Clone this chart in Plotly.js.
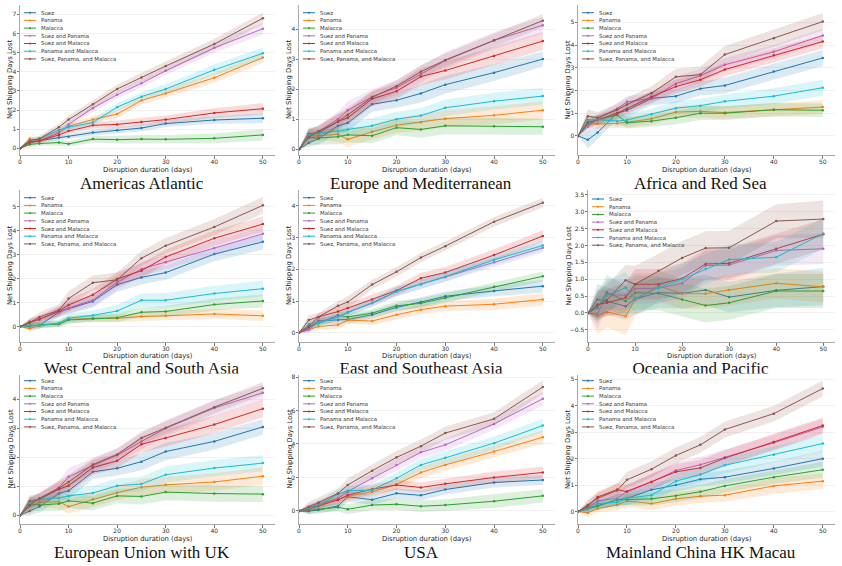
<!DOCTYPE html>
<html><head><meta charset="utf-8">
<script src="https://cdn.plot.ly/plotly-3.0.1.min.js"></script>
<style>html,body{margin:0;padding:0;background:#fff}#chart{width:842px;height:566px}</style>
</head><body><div id="chart"></div>
<script>
// ---------------- DATA ----------------
const days = [0, 2, 4, 8, 10, 15, 20, 25, 30, 40, 50];
const routes = ["Suez", "Panama", "Malacca", "Suez and Panama", "Suez and Malacca", "Panama and Malacca", "Suez, Panama, and Malacca"];
const regionNames = ["Americas Atlantic", "Europe and Mediterranean", "Africa and Red Sea",
  "West Central and South Asia", "East and Southeast Asia", "Oceania and Pacific",
  "European Union with UK", "USA", "Mainland China HK Macau"];
const xTickVals = [0, 10, 20, 30, 40, 50];

// Americas Atlantic
const aaMean = [
  [0,0.30,0.40,0.56,0.61,0.82,0.94,1.06,1.29,1.48,1.57],
  [0,0.50,0.35,0.85,1.15,1.50,1.79,2.50,2.87,3.69,4.74],
  [0,0.20,0.25,0.30,0.23,0.48,0.45,0.48,0.47,0.52,0.70],
  [0,0.30,0.40,0.80,1.25,2.10,2.80,3.40,4.05,5.25,6.25],
  [0,0.30,0.40,0.70,0.90,1.20,1.25,1.38,1.50,1.85,2.07],
  [0,0.40,0.50,0.95,1.10,1.35,2.15,2.70,3.10,4.10,4.97],
  [0,0.40,0.50,1.10,1.50,2.30,3.10,3.70,4.30,5.45,6.80]];
const aaErr = [
  [0,0.10,0.10,0.12,0.12,0.15,0.15,0.17,0.18,0.20,0.25],
  [0,0.15,0.12,0.15,0.15,0.18,0.20,0.22,0.22,0.25,0.28],
  [0,0.15,0.12,0.15,0.15,0.18,0.20,0.22,0.22,0.25,0.30],
  [0,0.12,0.12,0.15,0.15,0.20,0.20,0.22,0.22,0.25,0.30],
  [0,0.12,0.12,0.15,0.15,0.18,0.20,0.20,0.22,0.25,0.30],
  [0,0.12,0.12,0.15,0.15,0.18,0.20,0.22,0.25,0.28,0.30],
  [0,0.15,0.15,0.18,0.20,0.20,0.22,0.25,0.25,0.28,0.30]];

// Europe and Mediterranean
const emMean = [
  [0,0.22,0.35,0.78,0.88,1.50,1.63,1.86,2.15,2.55,3.00],
  [0,0.45,0.45,0.50,0.33,0.58,0.80,0.90,1.02,1.13,1.30],
  [0,0.40,0.37,0.42,0.48,0.45,0.72,0.66,0.78,0.77,0.75],
  [0,0.45,0.60,1.00,1.30,1.75,2.05,2.50,2.95,3.62,4.13],
  [0,0.52,0.55,0.92,1.05,1.68,1.93,2.42,2.62,3.10,3.60],
  [0,0.48,0.55,0.60,0.66,0.78,1.00,1.12,1.38,1.60,1.77],
  [0,0.40,0.60,0.92,1.15,1.73,2.10,2.58,2.97,3.63,4.28]];
const emErr = [
  [0,0.15,0.20,0.25,0.30,0.25,0.25,0.30,0.30,0.28,0.25],
  [0,0.25,0.15,0.25,0.25,0.25,0.25,0.28,0.28,0.30,0.30],
  [0,0.25,0.20,0.25,0.25,0.25,0.25,0.28,0.28,0.28,0.27],
  [0,0.20,0.20,0.25,0.30,0.25,0.25,0.28,0.28,0.28,0.27],
  [0,0.20,0.20,0.25,0.25,0.25,0.25,0.28,0.30,0.30,0.30],
  [0,0.20,0.15,0.20,0.22,0.25,0.25,0.25,0.28,0.28,0.28],
  [0,0.25,0.20,0.25,0.25,0.20,0.20,0.22,0.22,0.22,0.22]];

// Africa and Red Sea
const arMean = [
  [0,-0.17,0.15,1.00,1.12,1.65,1.75,2.08,2.22,2.83,3.43],
  [0,0.55,0.52,0.55,0.60,0.75,1.05,1.08,1.03,1.15,1.27],
  [0,0.50,0.72,0.92,0.58,0.65,0.80,1.00,1.00,1.15,1.13],
  [0,0.40,0.75,1.20,1.50,1.65,2.30,2.65,3.13,3.70,4.42],
  [0,0.60,0.70,1.00,1.20,1.72,2.17,2.47,2.92,3.55,4.15],
  [0,0.70,0.72,0.65,0.70,0.95,1.22,1.33,1.52,1.75,2.12],
  [0,0.87,0.80,1.15,1.38,1.88,2.60,2.70,3.58,4.30,5.03]];
const arErr = [
  [0,0.37,0.30,0.25,0.30,0.30,0.30,0.30,0.35,0.35,0.35],
  [0,0.20,0.20,0.20,0.25,0.25,0.25,0.28,0.28,0.30,0.30],
  [0,0.20,0.20,0.25,0.25,0.25,0.30,0.30,0.30,0.30,0.30],
  [0,0.25,0.20,0.25,0.25,0.25,0.30,0.30,0.30,0.30,0.30],
  [0,0.20,0.20,0.25,0.25,0.25,0.30,0.30,0.30,0.30,0.30],
  [0,0.20,0.20,0.25,0.25,0.25,0.30,0.30,0.30,0.35,0.35],
  [0,0.30,0.25,0.25,0.30,0.30,0.35,0.35,0.38,0.38,0.38]];

// West Central and South Asia
const wcMean = [
  [0,0.02,0.05,0.60,0.75,1.05,1.75,2.05,2.25,3.02,3.53],
  [0,-0.08,0.05,0.12,0.30,0.35,0.35,0.42,0.45,0.53,0.45],
  [0,0.02,0.08,0.10,0.28,0.33,0.37,0.60,0.63,0.92,1.07],
  [0,0.15,0.30,0.60,0.78,1.10,1.85,2.40,2.68,3.27,3.87],
  [0,0.20,0.30,0.65,0.90,1.33,1.98,2.33,2.90,3.68,4.27],
  [0,0.05,0.05,0.15,0.35,0.47,0.65,1.10,1.10,1.38,1.58],
  [0,0.17,0.40,0.68,1.17,1.83,1.95,2.85,3.37,4.15,5.05]];
const wcErr = [
  [0,0.15,0.15,0.20,0.20,0.25,0.30,0.30,0.30,0.30,0.32],
  [0,0.15,0.12,0.12,0.15,0.15,0.15,0.18,0.20,0.20,0.22],
  [0,0.12,0.12,0.12,0.15,0.15,0.18,0.20,0.22,0.25,0.27],
  [0,0.15,0.15,0.20,0.25,0.25,0.30,0.30,0.30,0.30,0.30],
  [0,0.15,0.15,0.20,0.25,0.25,0.30,0.30,0.30,0.32,0.32],
  [0,0.12,0.12,0.15,0.20,0.20,0.25,0.28,0.30,0.32,0.33],
  [0,0.15,0.20,0.25,0.30,0.30,0.30,0.30,0.32,0.33,0.35]];

// East and Southeast Asia
const esMean = [
  [0,0.15,0.38,0.40,0.42,0.57,0.80,0.97,1.15,1.32,1.47],
  [0,0.10,0.20,0.25,0.40,0.37,0.57,0.73,0.84,0.90,1.05],
  [0,0.20,0.30,0.55,0.50,0.62,0.85,0.93,1.10,1.45,1.78],
  [0,0.10,0.35,0.50,0.65,0.93,1.30,1.53,1.75,2.22,2.68],
  [0,0.20,0.50,0.67,0.78,1.05,1.33,1.72,1.90,2.45,3.05],
  [0,0.28,0.30,0.50,0.63,0.95,1.30,1.53,1.77,2.30,2.75],
  [0,0.40,0.50,0.85,0.97,1.52,1.92,2.37,2.73,3.50,4.10]];
const esErr = [
  [0,0.10,0.10,0.12,0.12,0.12,0.12,0.15,0.15,0.17,0.20],
  [0,0.10,0.10,0.12,0.12,0.12,0.15,0.15,0.15,0.18,0.20],
  [0,0.10,0.10,0.12,0.12,0.12,0.15,0.15,0.15,0.15,0.15],
  [0,0.10,0.10,0.12,0.12,0.12,0.15,0.15,0.15,0.15,0.15],
  [0,0.12,0.12,0.15,0.15,0.15,0.15,0.17,0.17,0.18,0.18],
  [0,0.12,0.10,0.12,0.12,0.12,0.15,0.15,0.15,0.15,0.15],
  [0,0.15,0.12,0.15,0.18,0.15,0.15,0.15,0.15,0.15,0.15]];

// Oceania and Pacific
const opMean = [
  [0,0.40,0.35,0.20,0.42,0.60,0.58,0.68,0.47,0.67,0.78],
  [0,-0.08,0.03,-0.10,0.40,0.80,0.57,0.57,0.68,0.88,0.77],
  [0,0.15,0.62,0.35,0.60,0.58,0.40,0.22,0.30,0.65,0.65],
  [0,-0.02,0.55,0.52,0.72,0.73,0.88,1.40,1.42,1.85,1.90],
  [0,0.25,0.30,0.45,0.85,0.85,1.02,1.45,1.47,1.90,2.33],
  [0,0.20,0.50,0.75,0.42,0.75,1.00,1.30,1.58,1.65,2.35],
  [0,0.22,0.38,0.97,0.85,1.25,1.63,1.92,1.93,2.72,2.78]];
const opErr = [
  [0,0.45,0.40,0.40,0.45,0.45,0.45,0.45,0.45,0.50,0.55],
  [0,0.55,0.45,0.55,0.50,0.45,0.45,0.45,0.45,0.45,0.45],
  [0,0.45,0.50,0.45,0.50,0.50,0.50,0.50,0.50,0.50,0.50],
  [0,0.45,0.45,0.45,0.45,0.45,0.45,0.45,0.45,0.45,0.45],
  [0,0.40,0.40,0.45,0.45,0.45,0.45,0.45,0.45,0.45,0.45],
  [0,0.40,0.45,0.45,0.45,0.45,0.45,0.45,0.45,0.45,0.45],
  [0,0.45,0.45,0.45,0.55,0.50,0.50,0.50,0.50,0.50,0.55]];

// European Union with UK
const euMean = [
  [0,0.15,0.30,0.75,0.85,1.50,1.62,1.85,2.20,2.55,3.05],
  [0,0.30,0.45,0.47,0.30,0.55,0.78,0.97,1.05,1.15,1.35],
  [0,0.40,0.35,0.40,0.50,0.42,0.67,0.65,0.80,0.75,0.73],
  [0,0.40,0.58,0.95,1.33,1.72,2.07,2.55,3.00,3.70,4.23],
  [0,0.48,0.55,0.90,1.02,1.65,1.88,2.45,2.67,3.13,3.68],
  [0,0.42,0.55,0.60,0.67,0.77,1.02,1.08,1.40,1.63,1.80],
  [0,0.35,0.58,0.93,1.15,1.75,2.10,2.67,3.02,3.73,4.38]];
const euErr = [
  [0,0.15,0.20,0.25,0.30,0.25,0.25,0.30,0.30,0.28,0.27],
  [0,0.25,0.15,0.25,0.25,0.25,0.25,0.28,0.28,0.30,0.30],
  [0,0.25,0.20,0.25,0.25,0.25,0.25,0.28,0.28,0.28,0.27],
  [0,0.20,0.20,0.25,0.30,0.25,0.25,0.28,0.28,0.28,0.27],
  [0,0.20,0.20,0.25,0.25,0.25,0.25,0.28,0.30,0.30,0.30],
  [0,0.20,0.15,0.20,0.22,0.25,0.25,0.25,0.28,0.28,0.28],
  [0,0.25,0.20,0.25,0.25,0.20,0.20,0.22,0.22,0.22,0.22]];

// USA
const usMean = [
  [0,0.00,0.05,0.30,0.85,0.67,1.05,0.93,1.28,1.70,1.85],
  [0,0.15,0.35,0.72,0.88,1.15,1.58,2.30,2.75,3.55,4.40],
  [0,0.00,0.10,0.22,0.10,0.35,0.40,0.28,0.35,0.58,0.90],
  [0,0.20,0.40,0.75,1.15,1.95,2.75,3.50,3.95,5.20,6.70],
  [0,0.10,0.30,0.65,0.95,1.30,1.55,1.40,1.62,2.00,2.30],
  [0,0.15,0.35,1.00,1.20,1.25,1.95,2.75,3.17,4.05,5.10],
  [0,0.25,0.50,1.05,1.55,2.40,3.20,3.87,4.65,5.50,7.40]];
const usErr = [
  [0,0.20,0.20,0.25,0.30,0.30,0.30,0.30,0.30,0.30,0.30],
  [0,0.20,0.20,0.25,0.30,0.30,0.30,0.35,0.35,0.35,0.40],
  [0,0.20,0.20,0.25,0.30,0.30,0.35,0.35,0.35,0.40,0.40],
  [0,0.20,0.25,0.30,0.30,0.35,0.35,0.35,0.35,0.35,0.40],
  [0,0.20,0.20,0.25,0.30,0.30,0.30,0.30,0.30,0.35,0.35],
  [0,0.20,0.20,0.30,0.30,0.30,0.35,0.35,0.40,0.40,0.40],
  [0,0.30,0.30,0.30,0.40,0.40,0.40,0.40,0.40,0.40,0.40]];

// Mainland China HK Macau
const cnMean = [
  [0,0.12,0.23,0.45,0.50,0.82,1.00,1.22,1.30,1.63,2.00],
  [0,-0.05,0.12,0.25,0.40,0.30,0.48,0.58,0.62,0.97,1.15],
  [0,0.10,0.20,0.45,0.45,0.48,0.60,0.75,0.97,1.30,1.58],
  [0,0.15,0.40,0.50,0.77,1.12,1.55,1.77,2.05,2.60,3.20],
  [0,0.20,0.55,0.83,0.75,1.12,1.50,1.65,2.02,2.63,3.25],
  [0,0.10,0.30,0.35,0.50,0.62,1.15,1.40,1.75,2.15,2.57],
  [0,0.25,0.50,0.80,1.20,1.60,2.12,2.52,3.10,3.70,4.65]];
const cnErr = [
  [0,0.15,0.15,0.20,0.25,0.25,0.25,0.25,0.25,0.25,0.30],
  [0,0.15,0.15,0.20,0.22,0.25,0.25,0.25,0.25,0.30,0.30],
  [0,0.15,0.15,0.20,0.22,0.25,0.25,0.25,0.25,0.25,0.30],
  [0,0.15,0.20,0.25,0.25,0.30,0.30,0.30,0.30,0.30,0.30],
  [0,0.15,0.20,0.25,0.25,0.30,0.30,0.30,0.30,0.30,0.30],
  [0,0.15,0.15,0.20,0.25,0.25,0.30,0.30,0.30,0.30,0.30],
  [0,0.20,0.20,0.25,0.30,0.30,0.30,0.30,0.30,0.30,0.30]];

const panelMeans = [aaMean, emMean, arMean, wcMean, esMean, opMean, euMean, usMean, cnMean];
const panelErrs  = [aaErr, emErr, arErr, wcErr, esErr, opErr, euErr, usErr, cnErr];

// ---------------- STYLE / GEOMETRY ----------------
const routeColors = [[31,119,180],[255,127,14],[44,160,44],[186,104,200],[214,39,40],[23,190,207],[140,86,75]];
const W = 842, H = 566;
const rowTop = [5, 190, 375], rowBot = [155, 342, 524];
const colLeft = [20, 299, 578], colRight = [275, 555, 835];
const panelLeftOverride = {5: 588};
const yRanges = [[-0.35,7.49],[-0.19,4.80],[-0.84,5.76],[-0.64,5.69],[-0.29,4.5],[-0.86,3.64],[-0.30,4.84],[-0.78,8.12],[-0.47,5.16]];
const yDticks = [1,1,1,1,1,0.5,1,2,1];
const yTitleX = [10, 289, 567.5];
const xTitleY = [169.5, 355.5, 538.5];
const titleY = [183, 370, 552.7];
const legendOffset = [7.7, 7.7, 5.7];

const px = v => v / W;
const py = v => 1 - v / H;
const rgba = (c, a) => `rgba(${c[0]},${c[1]},${c[2]},${a})`;

const traces = [];
const layout = {
  width: W, height: H,
  margin: {l:0, r:0, t:0, b:0, pad:0},
  paper_bgcolor: '#fff', plot_bgcolor: '#fff',
  showlegend: false,
  font: {family: 'DejaVu Sans', color: '#333'},
  annotations: [], shapes: []
};

for (let p = 0; p < 9; p++) {
  const r = Math.floor(p / 3), c = p % 3;
  const suf = p === 0 ? '' : String(p + 1);
  const xa = 'x' + suf, ya = 'y' + suf;
  const left = panelLeftOverride[p] !== undefined ? panelLeftOverride[p] : colLeft[c];
  const right = colRight[c];
  const top = rowTop[r], bot = rowBot[r];

  const means = panelMeans[p], errs = panelErrs[p];
  for (let s = 0; s < routes.length; s++) {
    const m = means[s], e = errs[s];
    const upper = m.map((v, i) => v + e[i]);
    const lower = m.map((v, i) => v - e[i]);
    traces.push({
      type: 'scatter', xaxis: xa, yaxis: ya, mode: 'lines',
      x: days.concat(days.slice().reverse()),
      y: upper.concat(lower.slice().reverse()),
      fill: 'toself', fillcolor: rgba(routeColors[s], 0.16),
      line: {width: 0, color: rgba(routeColors[s], 0)}, hoverinfo: 'skip'
    });
    traces.push({
      type: 'scatter', xaxis: xa, yaxis: ya, mode: 'lines+markers',
      x: days, y: m, name: routes[s],
      line: {width: 1, color: rgba(routeColors[s], 1)},
      marker: {size: 2.5, color: rgba(routeColors[s], 1)}
    });
  }

  const axKey = p === 0 ? '' : String(p + 1);
  layout['xaxis' + axKey] = {
    domain: [px(left), px(right)], anchor: ya, range: [0, 52.5],
    tickvals: xTickVals, ticks: 'outside', ticklen: 2.5, tickwidth: 0.8, tickcolor: '#555',
    ticklabelstandoff: -2,
    showline: true, linecolor: '#aaa', linewidth: 1, showgrid: false, zeroline: false,
    tickfont: {size: 6, color: '#333', family: 'DejaVu Sans'}
  };
  layout['yaxis' + axKey] = {
    domain: [py(bot), py(top)], anchor: xa, range: yRanges[p], dtick: yDticks[p], tick0: 0,
    tickformat: p === 5 ? '.1f' : '', ticks: 'outside', ticklen: 2.5, tickwidth: 0.8, tickcolor: '#555',
    ticklabelstandoff: -1,
    showline: true, linecolor: '#aaa', linewidth: 1, showgrid: true, gridcolor: '#eeeeee', gridwidth: 0.8,
    zeroline: false, tickfont: {size: 6, color: '#333', family: 'DejaVu Sans'}
  };

  // axis titles
  layout.annotations.push({
    xref: 'paper', yref: 'paper', x: px((left + right) / 2), y: py(xTitleY[r]),
    text: 'Disruption duration (days)', showarrow: false, xanchor: 'center', yanchor: 'middle',
    font: {size: 6.8, color: '#222', family: 'DejaVu Sans'}
  });
  layout.annotations.push({
    xref: 'paper', yref: 'paper', x: px(yTitleX[c] + (p === 5 ? 1 : 0)), y: py((top + bot) / 2),
    text: 'Net Shipping Days Lost', showarrow: false, textangle: -90, xanchor: 'center', yanchor: 'middle',
    font: {size: 6.8, color: '#222', family: 'DejaVu Sans'}
  });
  // region title (middle row is drawn as clipped text below)
  if (r !== 1) {
    layout.annotations.push({
      xref: 'paper', yref: 'paper', x: px((colLeft[c] + right) / 2 - 6), y: py(titleY[r]),
      text: regionNames[p], showarrow: false, xanchor: 'center', yanchor: 'middle',
      font: {size: 17, color: '#111', family: 'Liberation Serif'}
    });
  }
  // legend (drawn manually, small)
  for (let s = 0; s < routes.length; s++) {
    const ly = top + legendOffset[r] + (p === 5 ? 1.3 : 0) + 7.7 * s;
    const lx0 = left + 4, lx1 = lx0 + 12;
    layout.shapes.push({type: 'line', xref: 'paper', yref: 'paper',
      x0: px(lx0), x1: px(lx1), y0: py(ly), y1: py(ly),
      line: {color: rgba(routeColors[s], 1), width: 1}});
    layout.shapes.push({type: 'circle', xref: 'paper', yref: 'paper',
      x0: px((lx0 + lx1) / 2 - 1), x1: px((lx0 + lx1) / 2 + 1), y0: py(ly - 1), y1: py(ly + 1),
      fillcolor: rgba(routeColors[s], 1), line: {width: 0}});
    layout.annotations.push({
      xref: 'paper', yref: 'paper', x: px(lx1 + 3), y: py(ly),
      text: routes[s], showarrow: false, xanchor: 'left', yanchor: 'middle',
      font: {size: 5.4, color: '#333', family: 'DejaVu Sans'}
    });
  }
}

// Middle-row titles are partly hidden behind the bottom row in the reference:
// draw them as text clipped to a hidden helper subplot that ends where the bottom row starts.
const clipTop = 355, clipBot = 373.5;
traces.push({
  type: 'scatter', xaxis: 'x10', yaxis: 'y10', mode: 'text', cliponaxis: true,
  x: [0, 1, 2].map(c => (colLeft[c] + colRight[c]) / 2 - 6),
  y: [titleY[1], titleY[1], titleY[1]],
  text: regionNames.slice(3, 6), textposition: 'middle center', hoverinfo: 'skip',
  textfont: {size: 17, color: '#111', family: 'Liberation Serif'}
});
layout.xaxis10 = {domain: [0, 1], range: [0, W], visible: false, anchor: 'y10'};
layout.yaxis10 = {domain: [py(clipBot), py(clipTop)], range: [clipBot, clipTop], visible: false, anchor: 'x10'};

Plotly.newPlot('chart', traces, layout, {staticPlot: true, displayModeBar: false});
</script>
</body></html>
